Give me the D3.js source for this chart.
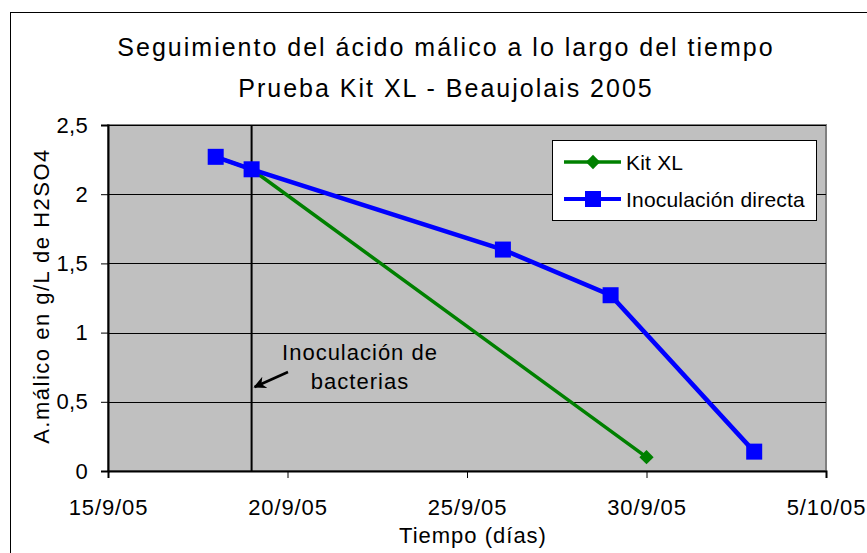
<!DOCTYPE html>
<html>
<head>
<meta charset="utf-8">
<script src="https://cdn.jsdelivr.net/npm/d3@7"></script>
<style>
  body { margin: 0; background: #fff; }
  svg text { font-family: "Liberation Sans", Arial, sans-serif; fill: #000; }
</style>
</head>
<body>
<div id="chart"></div>
<script>
// data
var kitDates = ["2005-09-18", "2005-09-19", "2005-09-30"];
var kitValues = [2.27, 2.18, 0.10];
var inocDates = ["2005-09-18", "2005-09-19", "2005-09-26", "2005-09-29", "2005-10-03"];
var inocValues = [2.27, 2.18, 1.60, 1.27, 0.14];
var xTickDates = ["2005-09-15", "2005-09-20", "2005-09-25", "2005-09-30", "2005-10-05"];
var xTickLabels = ["15/9/05", "20/9/05", "25/9/05", "30/9/05", "5/10/05"];
var yTicks = [0, 0.5, 1, 1.5, 2, 2.5];
var yTickLabels = ["0", "0,5", "1", "1,5", "2", "2,5"];
var inoculationDate = "2005-09-19";

var parse = d3.timeParse("%Y-%m-%d");

var width = 867, height = 553;
var plot = { left: 108, top: 125, right: 826, bottom: 471 };

var svg = d3.select("#chart").append("svg")
    .attr("width", width)
    .attr("height", height);

// outer chart frame
svg.append("rect")
    .attr("x", 10.5).attr("y", 12.5)
    .attr("width", 900).attr("height", 600)
    .attr("fill", "#fff")
    .attr("stroke", "#000")
    .attr("stroke-width", 1);

var x = d3.scaleTime()
    .domain([parse(xTickDates[0]), parse(xTickDates[xTickDates.length - 1])])
    .range([plot.left, plot.right]);

var y = d3.scaleLinear()
    .domain([0, 2.5])
    .range([plot.bottom, plot.top]);

// plot background
svg.append("rect")
    .attr("x", plot.left).attr("y", plot.top)
    .attr("width", plot.right - plot.left)
    .attr("height", plot.bottom - plot.top)
    .attr("fill", "#c0c0c0")
    .attr("stroke", "#808080")
    .attr("stroke-width", 2);

// horizontal gridlines
svg.append("g").selectAll("line")
    .data(yTicks.slice(1))
    .enter().append("line")
    .attr("x1", plot.left).attr("x2", plot.right)
    .attr("y1", function (d) { return Math.round(y(d)) + 0.5; })
    .attr("y2", function (d) { return Math.round(y(d)) + 0.5; })
    .attr("stroke", "#000")
    .attr("stroke-width", 1);

// y axis
var yAxis = d3.axisLeft(y)
    .tickValues(yTicks)
    .tickSize(7)
    .tickPadding(13)
    .tickFormat(function (d, i) { return yTickLabels[i]; });

var gy = svg.append("g")
    .attr("transform", "translate(" + plot.left + ",0)")
    .call(yAxis);
gy.selectAll("text").style("font-size", "22px").style("letter-spacing", "0.3px");

// x axis
var xAxis = d3.axisBottom(x)
    .tickValues(xTickDates.map(parse))
    .tickSize(7)
    .tickPadding(21)
    .tickFormat(function (d, i) { return xTickLabels[i]; });

var gx = svg.append("g")
    .attr("transform", "translate(0," + plot.bottom + ")")
    .call(xAxis);
gx.selectAll("text").style("font-size", "22px").style("letter-spacing", "0.9px");

[gx, gy].forEach(function (g) {
    g.select(".domain").attr("stroke", "#000").attr("stroke-width", 2);
    g.selectAll(".tick line").attr("stroke", "#000");
});

// inoculation marker line
svg.append("line")
    .attr("x1", x(parse(inoculationDate))).attr("x2", x(parse(inoculationDate)))
    .attr("y1", plot.top).attr("y2", plot.bottom)
    .attr("stroke", "#000")
    .attr("stroke-width", 2);

// annotation
svg.append("defs").append("marker")
    .attr("id", "arrow")
    .attr("viewBox", "0 0 10 10")
    .attr("refX", 9).attr("refY", 5)
    .attr("markerWidth", 5).attr("markerHeight", 5)
    .attr("orient", "auto")
    .append("path")
    .attr("d", "M0,0 L10,5 L0,10 L3,5 Z")
    .attr("fill", "#000");

svg.append("line")
    .attr("x1", 288).attr("y1", 372)
    .attr("x2", x(parse(inoculationDate)) + 3).attr("y2", 387)
    .attr("stroke", "#000")
    .attr("stroke-width", 2.5)
    .attr("marker-end", "url(#arrow)");

var note = svg.append("text")
    .attr("text-anchor", "middle")
    .style("font-size", "22px")
    .style("letter-spacing", "1px");
note.append("tspan").attr("x", 360).attr("y", 360).text("Inoculación de");
note.append("tspan").attr("x", 360).attr("y", 389).text("bacterias");

// series
var line = d3.line()
    .x(function (d) { return x(d.date); })
    .y(function (d) { return y(d.value); });

var kit = kitDates.map(function (d, i) { return { date: parse(d), value: kitValues[i] }; });
var inoc = inocDates.map(function (d, i) { return { date: parse(d), value: inocValues[i] }; });

svg.append("path")
    .datum(kit)
    .attr("d", line)
    .attr("fill", "none")
    .attr("stroke", "#008000")
    .attr("stroke-width", 3.5);

svg.append("g").selectAll("path")
    .data(kit)
    .enter().append("path")
    .attr("transform", function (d) { return "translate(" + x(d.date) + "," + y(d.value) + ")"; })
    .attr("d", d3.symbol().type(d3.symbolDiamond2).size(130))
    .attr("fill", "#008000");

svg.append("path")
    .datum(inoc)
    .attr("d", line)
    .attr("fill", "none")
    .attr("stroke", "#0000ff")
    .attr("stroke-width", 4.5);

svg.append("g").selectAll("rect")
    .data(inoc)
    .enter().append("rect")
    .attr("x", function (d) { return x(d.date) - 8; })
    .attr("y", function (d) { return y(d.value) - 8; })
    .attr("width", 16).attr("height", 16)
    .attr("fill", "#0000ff");

// legend
var legend = svg.append("g").attr("transform", "translate(552,140)");
legend.append("rect")
    .attr("x", 0.5).attr("y", 0.5)
    .attr("width", 264).attr("height", 80)
    .attr("fill", "#fff")
    .attr("stroke", "#000");

var legendItems = [
    { name: "Kit XL", color: "#008000", y: 22, marker: "diamond" },
    { name: "Inoculación directa", color: "#0000ff", y: 59, marker: "square" }
];

legendItems.forEach(function (item) {
    legend.append("line")
        .attr("x1", 12).attr("x2", 69)
        .attr("y1", item.y).attr("y2", item.y)
        .attr("stroke", item.color)
        .attr("stroke-width", item.marker === "square" ? 4 : 3.5);
    if (item.marker === "square") {
        legend.append("rect")
            .attr("x", 33).attr("y", item.y - 8)
            .attr("width", 16).attr("height", 16)
            .attr("fill", item.color);
    } else {
        legend.append("path")
            .attr("transform", "translate(41," + item.y + ")")
            .attr("d", d3.symbol().type(d3.symbolDiamond2).size(130))
            .attr("fill", item.color);
    }
    legend.append("text")
        .attr("x", 74).attr("y", item.y)
        .attr("dy", "0.36em")
        .style("font-size", "21px")
        .style("letter-spacing", "0.2px")
        .text(item.name);
});

// titles
var title = svg.append("text")
    .attr("text-anchor", "middle")
    .style("font-size", "25px")
    .style("letter-spacing", "2px");
title.append("tspan").attr("x", 446).attr("y", 56)
    .text("Seguimiento del ácido málico a lo largo del tiempo");
title.append("tspan").attr("x", 446).attr("y", 97)
    .text("Prueba Kit XL - Beaujolais 2005");

svg.append("text")
    .attr("x", 473)
    .attr("y", 543)
    .attr("text-anchor", "middle")
    .style("font-size", "22px")
    .style("letter-spacing", "1px")
    .text("Tiempo (días)");

svg.append("text")
    .attr("transform", "translate(49,296) rotate(-90)")
    .attr("text-anchor", "middle")
    .style("font-size", "22px")
    .style("letter-spacing", "1.5px")
    .text("A.málico en g/L de H2SO4");
</script>
</body>
</html>
